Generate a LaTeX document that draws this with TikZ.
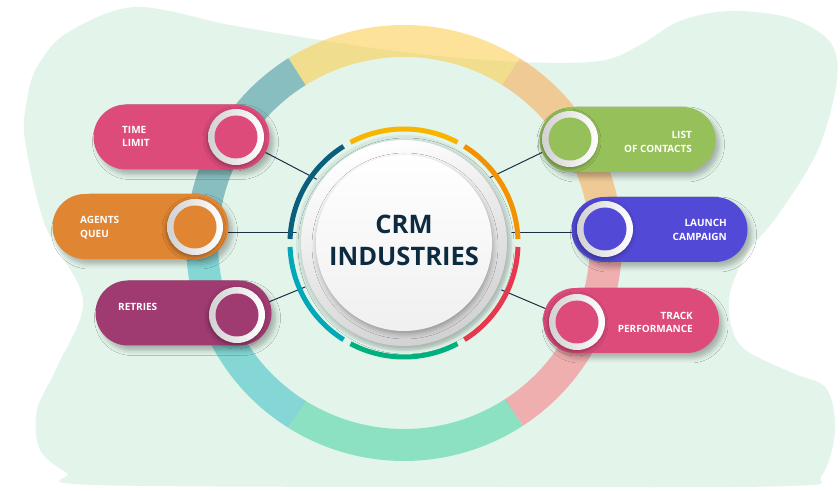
\documentclass[tikz,border=0pt]{standalone}
\usepackage{fontspec}
\setmainfont{Open Sans}
\usetikzlibrary{positioning,calc,shadows.blur}
\definecolor{BlobGreen}{HTML}{E3F5EA}
\definecolor{HaloGreen}{HTML}{D5E8DF}
\definecolor{BandYellow}{HTML}{FDC934}
\definecolor{BandPeach}{HTML}{FBA140}
\definecolor{BandPink}{HTML}{FD6B76}
\definecolor{BandGreen}{HTML}{39CF9E}
\definecolor{BandCyan}{HTML}{27BBC2}
\definecolor{BandTeal}{HTML}{318998}
\definecolor{RimYellow}{HTML}{F8B500}
\definecolor{RimOrange}{HTML}{F39200}
\definecolor{RimRed}{HTML}{E8384F}
\definecolor{RimGreen}{HTML}{00B07F}
\definecolor{RimCyan}{HTML}{00A8B8}
\definecolor{RimTeal}{HTML}{0B5E7C}
\definecolor{LinkNavy}{HTML}{1B3045}
\definecolor{HubNavy}{HTML}{0C2A40}
\definecolor{TimePink}{HTML}{DD4B7B}
\definecolor{AgentOrange}{HTML}{E08532}
\definecolor{RetryPlum}{HTML}{A03B72}
\definecolor{ContactGreen}{HTML}{96C05A}
\definecolor{LaunchBlue}{HTML}{5249D6}
\definecolor{TrackPink}{HTML}{DD4B7B}
\tikzset{card/.style={rounded corners=32.5pt,minimum width=176pt,minimum height=65pt,inner sep=0pt,blur shadow={shadow xshift=4pt,shadow yshift=-5pt,shadow blur radius=5pt,shadow opacity=28}}, knob/.style={circle,minimum size=56pt,inner sep=0pt,left color=black!18,right color=white,blur shadow={shadow xshift=-1pt,shadow yshift=-2pt,shadow blur radius=4pt,shadow opacity=35}}, knobin/.style={circle,minimum size=43pt,inner sep=0pt}, cardtext/.style={text=white,font=\fontsize{10}{13.5}\selectfont\bfseries,inner sep=0pt}, link/.style={draw=LinkNavy,line width=1pt}, band/.style={line width=32pt,draw opacity=0.5}, rim/.style={line width=5pt}}

\begin{document}
\begin{tikzpicture}[x=1pt,y=1pt]
\fill[white] (0,0) rectangle (840,490);
\useasboundingbox (0,0) rectangle (840,490);
% background blob
\fill[BlobGreen] plot[smooth cycle,tension=0.55] coordinates {(135,483) (230,465) (320,450) (420,436) (520,428) (600,429) (640,445) (680,469) (730,479) (790,472) (830,448) (837,410) (818,340) (778,275) (746,235) (729,190) (740,145) (790,118) (826,102) (835,60) (822,15) (790,4) (500,3) (95,5) (67,17) (40,40) (37,80) (57,123) (83,190) (45,265) (25,350) (27,390) (37,423) (67,457)};
\coordinate (hub) at (404,247);
% outer band
\foreach \a/\b/\col in {58/122/BandYellow,122/180/BandTeal,180/238/BandCyan,238/303/BandGreen,303/360/BandPink,0/58/BandPeach}
  \draw[band,draw=\col] (hub) ++(\a:202) arc[start angle=\a,end angle=\b,radius=202];
% knob and hub ends
\coordinate (tlk) at (236,353);
\coordinate (aqk) at (195,263);
\coordinate (rtk) at (237,175);
\coordinate (lock) at (570,351);
\coordinate (lck) at (605,261);
\coordinate (tpk) at (577,168);
\coordinate (tl-in) at (322,308);
\coordinate (aq-out) at (228,257);
\coordinate (aq-in) at (300,257);
\coordinate (rt-in) at (310,205);
\coordinate (loc-in) at (485,310);
\coordinate (lc-out) at (572,257);
\coordinate (lc-in) at (507,257);
\coordinate (tp-in) at (497,202);
\draw[link] (tlk) -- (tl-in);
\draw[link] (aq-out) -- (aq-in);
\draw[link] (rtk) -- (rt-in);
\draw[link] (lock) -- (loc-in);
\draw[link] (lc-out) -- (lc-in);
\draw[link] (tpk) -- (tp-in);
% hub
\fill[HaloGreen] (hub) circle[radius=108];
\node[circle,minimum size=206pt,inner sep=0pt,top color=white,bottom color=black!18,shading angle=20,blur shadow={shadow xshift=2pt,shadow yshift=-3pt,shadow blur radius=5pt,shadow opacity=25}] (disc) at (hub) {};
\node[circle,minimum size=176pt,inner sep=0pt,top color=white,bottom color=black!6,blur shadow={shadow xshift=1pt,shadow yshift=-3pt,shadow blur radius=5pt,shadow opacity=30}] (face) at (hub) {};
\foreach \a/\b/\col in {62/118/RimYellow,2/58/RimOrange,-58/-2/RimRed,-118/-62/RimGreen,182/238/RimCyan,122/178/RimTeal}
  \draw[rim,draw=\col] (hub) ++(\a:114) arc[start angle=\a,end angle=\b,radius=114];
\node[text=HubNavy,font=\fontsize{25.5}{32}\selectfont\bfseries,align=center] (crm) at (404,250) {CRM\\INDUSTRIES};
% cards
\node[card,fill=TimePink] (tl) at (181.5,353) {};
\node[card,fill=AgentOrange] (aq) at (140.5,263.5) {};
\node[card,fill=RetryPlum] (rt) at (183.5,177) {};
\node[card,fill=ContactGreen] (loc) at (627.5,350.5) {};
\node[card,fill=LaunchBlue] (lc) at (659.5,260.5) {};
\node[card,fill=TrackPink] (tp) at (631,169.5) {};
\node[knob] at (tlk) {};
\node[knob] at (aqk) {};
\node[knob] at (rtk) {};
\node[knob] at (lock) {};
\node[knob] at (lck) {};
\node[knob] at (tpk) {};
\node[knobin,fill=TimePink] at (tlk) {};
\node[knobin,fill=AgentOrange] at (aqk) {};
\node[knobin,fill=RetryPlum] at (rtk) {};
\node[knobin,fill=ContactGreen] at (lock) {};
\node[knobin,fill=LaunchBlue] at (lck) {};
\node[knobin,fill=TrackPink] at (tpk) {};
\node[cardtext,anchor=west,align=left] at (122,353.5) {TIME\\LIMIT};
\node[cardtext,anchor=west,align=left] at (80,262.5) {AGENTS\\QUEU};
\node[cardtext,anchor=west,align=left] at (118,183) {RETRIES};
\node[cardtext,anchor=east,align=right] at (692,348) {LIST\\OF CONTACTS};
\node[cardtext,anchor=east,align=right] at (727,260) {LAUNCH\\CAMPAIGN};
\node[cardtext,anchor=east,align=right] at (693,167.5) {TRACK\\PERFORMANCE};
\end{tikzpicture}
\end{document}
